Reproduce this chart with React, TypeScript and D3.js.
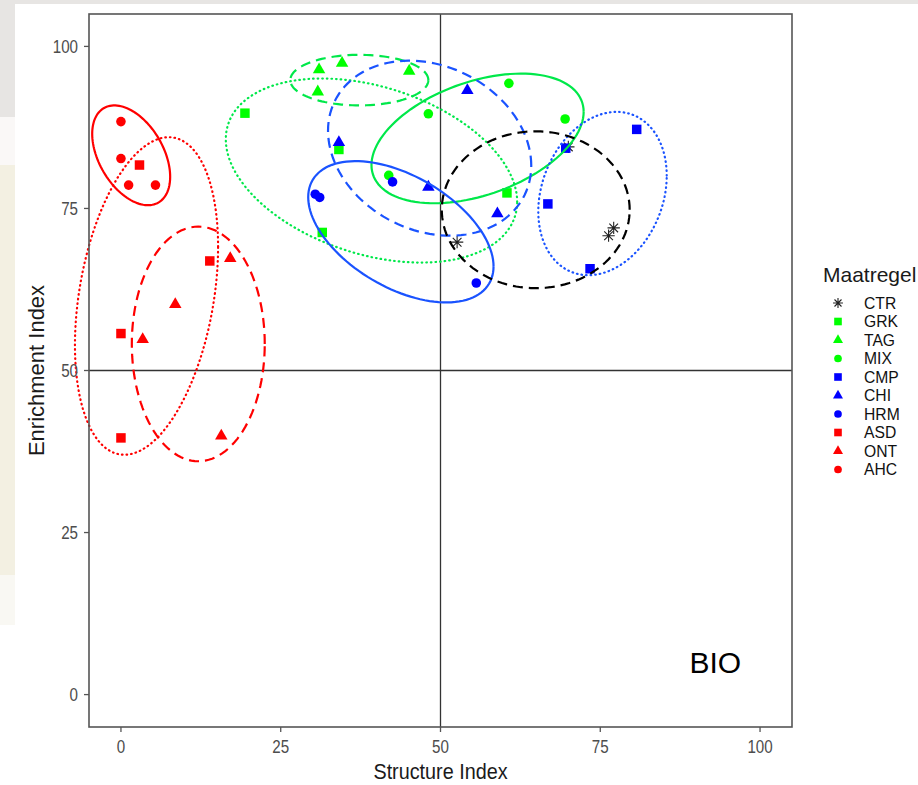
import React from "react";
import * as d3 from "d3";

// legend / treatment groups
const groups = ["CTR", "GRK", "TAG", "MIX", "CMP", "CHI", "HRM", "ASD", "ONT", "AHC"];
const groupColors = ["#000000", "#00FF00", "#00FF00", "#00FF00", "#0000FF", "#0000FF", "#0000FF", "#FF0000", "#FF0000", "#FF0000"];
const groupShapes = ["asterisk", "square", "triangle", "circle", "square", "triangle", "circle", "square", "triangle", "circle"];

// points (Structure Index, Enrichment Index)
const pointGroup = [
  "CTR", "CTR", "CTR", "CTR",
  "GRK", "GRK", "GRK", "GRK",
  "TAG", "TAG", "TAG", "TAG",
  "MIX", "MIX", "MIX", "MIX",
  "CMP", "CMP", "CMP", "CMP",
  "CHI", "CHI", "CHI", "CHI",
  "HRM", "HRM", "HRM", "HRM",
  "ASD", "ASD", "ASD", "ASD",
  "ONT", "ONT", "ONT", "ONT",
  "AHC", "AHC", "AHC", "AHC",
];
const structureIndex = [
  52.6, 70.0, 76.3, 77.1,
  19.4, 34.1, 31.5, 60.4,
  31.0, 34.6, 45.1, 30.8,
  48.1, 41.9, 60.7, 69.5,
  80.7, 66.8, 73.4, 69.6,
  34.1, 48.1, 54.2, 58.9,
  30.4, 31.1, 42.5, 55.6,
  2.9, 13.9, 0.0, 0.0,
  17.1, 8.5, 3.4, 15.7,
  0.0, 0.0, 1.2, 5.4,
];
const enrichmentIndex = [
  69.8, 84.5, 70.8, 72.0,
  89.7, 84.1, 71.3, 77.4,
  96.4, 97.4, 96.2, 93.0,
  89.6, 80.1, 94.3, 88.8,
  87.2, 75.7, 65.7, 84.3,
  85.2, 78.3, 93.2, 74.2,
  77.2, 76.7, 79.1, 63.5,
  81.7, 66.9, 55.7, 39.6,
  67.3, 60.2, 54.8, 39.9,
  88.4, 82.7, 78.6, 78.6,
];

// 95% ellipses: centre, half-extent in x and y, correlation
const ellipseGroup = ["AHC", "ASD", "ONT", "GRK", "TAG", "MIX", "HRM", "CHI", "CMP", "CTR"];
const ellipseCx = [1.6, 4.0, 12.1, 39.2, 37.3, 55.8, 43.8, 48.3, 75.35, 64.9];
const ellipseCy = [83.2, 61.5, 54.1, 80.85, 94.8, 85.8, 71.4, 84.3, 77.3, 74.8];
const ellipseSx = [6.1, 11.2, 10.4, 22.8, 10.8, 16.6, 14.5, 15.9, 10.05, 14.7];
const ellipseSy = [7.7, 24.5, 18.1, 14.2, 3.9, 10.0, 10.9, 13.5, 12.6, 12.1];
const ellipseR = [-0.43, 0.31, 0, -0.34, 0, 0.41, -0.49, -0.2, 0.22, 0];
const ellipseLinetype = ["solid", "dotted", "dashed", "dotted", "dashed", "solid", "solid", "dashed", "dotted", "dashed"];
const ellipseColors = ["#FF0000", "#FF0000", "#FF0000", "#00E84A", "#00E84A", "#00E84A", "#1A53FF", "#1A53FF", "#1A53FF", "#000000"];

const xTicks = [0, 25, 50, 75, 100];
const yTicks = [0, 25, 50, 75, 100];

const W = 918;
const H = 785;
const panel = { left: 89, right: 792, top: 14, bottom: 727 };

const sans = "'Liberation Sans', Arial, sans-serif";

function asteriskPath(r: number) {
  const d = r * Math.SQRT1_2;
  return `M${-r},0L${r},0M0,${-r}L0,${r}M${-d},${-d}L${d},${d}M${-d},${d}L${d},${-d}`;
}

function Marker({ shape, color, x, y, size }: { shape: string; color: string; x: number; y: number; size: number }) {
  if (shape === "asterisk") {
    return <path d={asteriskPath(Math.sqrt(size) * 0.65)} transform={`translate(${x},${y})`} stroke="#222" strokeWidth={1.1} fill="none" />;
  }
  const type = shape === "square" ? d3.symbolSquare : shape === "triangle" ? d3.symbolTriangle : d3.symbolCircle;
  const s = shape === "triangle" ? size * 0.75 : shape === "circle" ? size * 0.8 : size;
  return <path d={d3.symbol(type, s)() || ""} transform={`translate(${x},${y})`} fill={color} />;
}

// narrow text: squeeze a normal face horizontally
function NarrowText({ x, y, anchor, size, fill, sx, children }: { x: number; y: number; anchor: string; size: number; fill: string; sx: number; children: React.ReactNode }) {
  return (
    <text transform={`translate(${x},${y}) scale(${sx},1)`} textAnchor={anchor} fontFamily={sans} fontSize={size} fill={fill}>
      {children}
    </text>
  );
}

export default function App() {
  const x = d3.scaleLinear().domain([-5, 105]).range([panel.left, panel.right]);
  const y = d3.scaleLinear().domain([-5, 105]).range([panel.bottom, panel.top]);

  const angles = d3.range(0, 121).map((i) => (i / 120) * 2 * Math.PI);
  const line = d3.line<[number, number]>().x((d) => x(d[0])).y((d) => y(d[1]));

  const ellipses = ellipseGroup.map((g, i) => {
    const r = ellipseR[i];
    const pts = angles.map((a) => [
      ellipseCx[i] + ellipseSx[i] * Math.cos(a),
      ellipseCy[i] + ellipseSy[i] * (r * Math.cos(a) + Math.sqrt(1 - r * r) * Math.sin(a)),
    ] as [number, number]);
    const lt = ellipseLinetype[i];
    return (
      <path
        key={g}
        d={line(pts) || ""}
        fill="none"
        stroke={ellipseColors[i]}
        strokeWidth={2.2}
        strokeLinecap={lt === "dotted" ? "round" : "butt"}
        strokeDasharray={lt === "dashed" ? "10 6" : lt === "dotted" ? "0.6 4" : undefined}
      />
    );
  });

  const legendX = 838;
  const legendY0 = 303;
  const legendStep = 18.5;

  return (
    <svg width={W} height={H} style={{ position: "absolute", left: 0, top: 0, background: "#fff" }}>
      {/* screenshot background bits */}
      <rect x={0} y={0} width={W} height={4} fill="#e7e5e3" />
      <rect x={0} y={0} width={15} height={117} fill="#e7e5e3" />
      <rect x={0} y={117} width={15} height={48} fill="#faf8f7" />
      <rect x={0} y={165} width={15} height={410} fill="#f3f0e2" />
      <rect x={0} y={575} width={15} height={50} fill="#f9f8f3" />

      {/* reference lines */}
      <line x1={x(50)} x2={x(50)} y1={panel.top} y2={panel.bottom} stroke="#333" strokeWidth={1.3} />
      <line x1={panel.left} x2={panel.right} y1={y(50)} y2={y(50)} stroke="#333" strokeWidth={1.3} />

      {/* points */}
      {pointGroup.map((g, i) => {
        const gi = groups.indexOf(g);
        return (
          <Marker key={i} shape={groupShapes[gi]} color={groupColors[gi]} x={x(structureIndex[i])} y={y(enrichmentIndex[i])} size={90} />
        );
      })}

      {/* ellipses */}
      {ellipses}

      {/* panel border */}
      <rect x={panel.left} y={panel.top} width={panel.right - panel.left} height={panel.bottom - panel.top} fill="none" stroke="#555" strokeWidth={1.6} />

      {/* axes */}
      {xTicks.map((t) => (
        <g key={"x" + t}>
          <line x1={x(t)} x2={x(t)} y1={panel.bottom} y2={panel.bottom + 5} stroke="#555" strokeWidth={1.3} />
          <NarrowText x={x(t)} y={753} anchor="middle" size={18.5} fill="#4D4D4D" sx={0.82}>{t}</NarrowText>
        </g>
      ))}
      {yTicks.map((t) => (
        <g key={"y" + t}>
          <line x1={panel.left - 5} x2={panel.left} y1={y(t)} y2={y(t)} stroke="#555" strokeWidth={1.3} />
          <NarrowText x={78} y={y(t) + 6.5} anchor="end" size={18.5} fill="#4D4D4D" sx={0.82}>{t}</NarrowText>
        </g>
      ))}
      <NarrowText x={(panel.left + panel.right) / 2} y={779} anchor="middle" size={22} fill="#1a1a1a" sx={0.9}>Structure Index</NarrowText>
      <text transform={`translate(44,${(panel.top + panel.bottom) / 2}) rotate(-90)`} textAnchor="middle" fontFamily={sans} fontSize={22} fill="#1a1a1a">Enrichment Index</text>

      {/* panel label */}
      <text x={x(93)} y={y(5) + 11} textAnchor="middle" fontFamily={sans} fontSize={30} fill="#000">BIO</text>

      {/* legend */}
      <text x={823} y={282} fontFamily={sans} fontSize={21} fill="#1a1a1a">Maatregel</text>
      {groups.map((g, i) => (
        <g key={g}>
          <Marker shape={groupShapes[i]} color={groupColors[i]} x={legendX} y={legendY0 + i * legendStep} size={58} />
          <NarrowText x={864} y={legendY0 + i * legendStep + 5.8} anchor="start" size={16} fill="#111" sx={0.98}>{g}</NarrowText>
        </g>
      ))}
    </svg>
  );
}
